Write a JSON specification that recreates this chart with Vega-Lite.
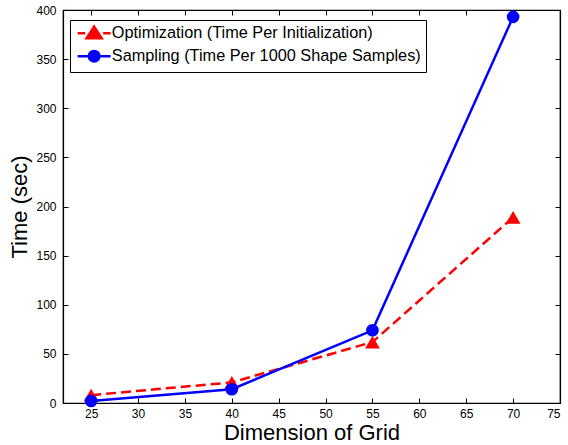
{
  "$schema": "https://vega.github.io/schema/vega-lite/v6.json",
  "autosize": {"type": "none"},
  "padding": {"left": 63, "top": 10, "right": 8, "bottom": 42},
  "width": 497,
  "height": 393,
  "background": "white",
  "config": {
    "font": "Liberation Sans",
    "view": {"stroke": "black", "strokeWidth": 1.2},
    "axis": {"grid": false, "domainColor": "black", "domainWidth": 1.2, "tickColor": "black", "tickWidth": 1, "labelColor": "black", "titleColor": "black", "labelFont": "Liberation Sans", "titleFont": "Liberation Sans", "labelFontSize": 12, "titleFontSize": 22, "titleFontWeight": "normal"},
    "legend": {"orient": "none", "legendX": 7, "legendY": 10, "title": null, "strokeColor": "black", "fillColor": "white", "padding": 5, "labelFontSize": 16.3, "labelFont": "Liberation Sans", "labelColor": "black", "labelOffset": 20.5, "labelLimit": 0, "symbolSize": 100, "symbolStrokeWidth": 2.5, "rowPadding": 1, "symbolOpacity": 1}
  },
  "data": {"values": [
    {"dim": 25, "time": 8, "series": "Optimization (Time Per Initialization)"},
    {"dim": 40, "time": 21, "series": "Optimization (Time Per Initialization)"},
    {"dim": 55, "time": 62, "series": "Optimization (Time Per Initialization)"},
    {"dim": 70, "time": 189, "series": "Optimization (Time Per Initialization)"},
    {"dim": 25, "time": 2, "series": "Sampling (Time Per 1000 Shape Samples)"},
    {"dim": 40, "time": 14, "series": "Sampling (Time Per 1000 Shape Samples)"},
    {"dim": 55, "time": 74, "series": "Sampling (Time Per 1000 Shape Samples)"},
    {"dim": 70, "time": 393, "series": "Sampling (Time Per 1000 Shape Samples)"}
  ]},
  "resolve": {"axis": {"x": "independent", "y": "independent"}},
  "layer": [
    {
      "transform": [{"filter": "datum.series === 'Optimization (Time Per Initialization)'"}],
      "mark": {"type": "line", "color": "#ff0000", "strokeWidth": 2.5, "strokeDash": [10, 5]},
      "encoding": {
        "x": {"field": "dim", "type": "quantitative", "scale": {"domain": [22, 75], "nice": false, "zero": false}, "axis": {"orient": "bottom", "title": "Dimension of Grid", "values": [25, 30, 35, 40, 45, 50, 55, 60, 65, 70, 75], "tickSize": -5, "labelPadding": 10, "titlePadding": 3}},
        "y": {"field": "time", "type": "quantitative", "scale": {"domain": [0, 400], "nice": false}, "axis": {"orient": "left", "title": "Time (sec)", "values": [0, 50, 100, 150, 200, 250, 300, 350, 400], "tickSize": -5, "labelPadding": 12, "titlePadding": 4}}
      }
    },
    {
      "transform": [{"filter": "datum.series === 'Optimization (Time Per Initialization)'"}],
      "mark": {"type": "point", "filled": true, "shape": "triangle-up", "color": "#ff0000", "opacity": 1, "size": 220},
      "encoding": {
        "x": {"field": "dim", "type": "quantitative", "axis": null},
        "y": {"field": "time", "type": "quantitative", "axis": null}
      }
    },
    {
      "transform": [{"filter": "datum.series === 'Sampling (Time Per 1000 Shape Samples)'"}],
      "mark": {"type": "line", "color": "#0000ff", "strokeWidth": 2.5},
      "encoding": {
        "x": {"field": "dim", "type": "quantitative", "axis": null},
        "y": {"field": "time", "type": "quantitative", "axis": null}
      }
    },
    {
      "transform": [{"filter": "datum.series === 'Sampling (Time Per 1000 Shape Samples)'"}],
      "mark": {"type": "point", "filled": true, "shape": "circle", "color": "#0000ff", "opacity": 1, "size": 160},
      "encoding": {
        "x": {"field": "dim", "type": "quantitative", "axis": null},
        "y": {"field": "time", "type": "quantitative", "axis": null}
      }
    },
    {
      "mark": {"type": "point", "filled": true, "opacity": 0},
      "encoding": {
        "x": {"field": "dim", "type": "quantitative", "axis": {"orient": "top", "title": null, "labels": false, "values": [25, 30, 35, 40, 45, 50, 55, 60, 65, 70, 75], "tickSize": -5}},
        "y": {"field": "time", "type": "quantitative", "axis": {"orient": "right", "title": null, "labels": false, "values": [0, 50, 100, 150, 200, 250, 300, 350, 400], "tickSize": -5}},
        "fill": {"field": "series", "type": "nominal", "scale": {"range": ["#ff0000", "#0000ff"]}},
        "stroke": {"field": "series", "type": "nominal", "scale": {"range": ["#ff0000", "#0000ff"]}},
        "shape": {"field": "series", "type": "nominal", "scale": {"range": ["M-1.1,0H0.4M4.0,0H5.5M2.2,-1.3L3.7,1.0L0.7,1.0Z", "M-1.1,0H5.5M1.15,0A1.05,1.05 0 1,0 3.25,0A1.05,1.05 0 1,0 1.15,0Z"]}}
      }
    }
  ]
}
